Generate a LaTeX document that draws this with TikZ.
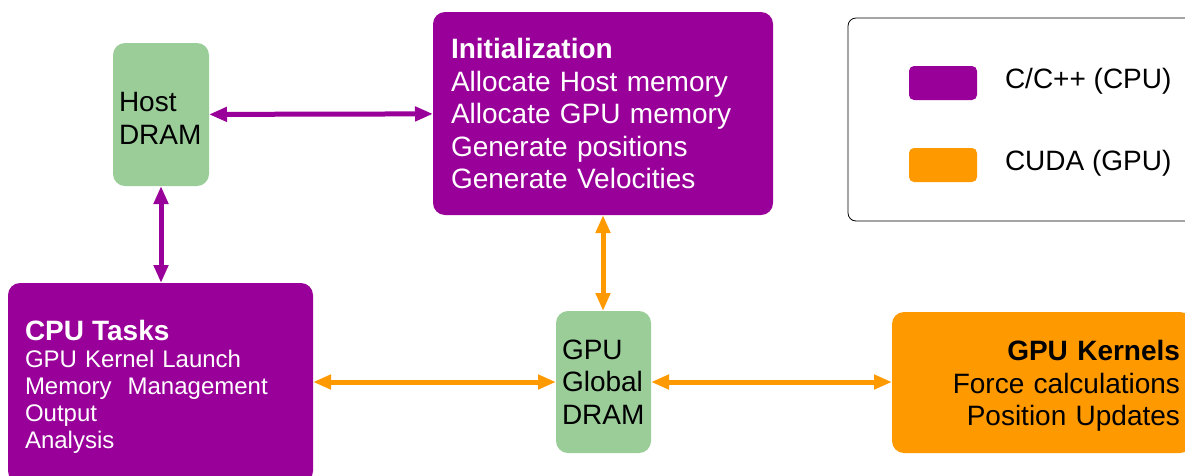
\documentclass[tikz,border=0pt]{standalone}
\usepackage{fontspec}
\setmainfont{Liberation Sans}
\usetikzlibrary{arrows.meta,positioning}
\definecolor{cpupurple}{HTML}{990099}
\definecolor{gpuorange}{HTML}{FF9900}
\definecolor{dramgreen}{HTML}{9BCD99}
\newcommand{\topstrut}{\rule{0pt}{27pt}}

\begin{document}
\begin{tikzpicture}[x=1pt,y=-1pt,
  every node/.style={font=\fontsize{28}{32.5}\selectfont,inner sep=0pt,outer sep=0pt},
  blockbox/.style={rounded corners=12pt,anchor=north west,inner ysep=0pt},
  drambox/.style={blockbox,fill=dramgreen,inner xsep=6pt,align=left},
  cpubox/.style={blockbox,fill=cpupurple,text=white,align=left},
  gpubox/.style={blockbox,fill=gpuorange,align=right},
  keybox/.style={rounded corners=5pt,minimum width=68pt,minimum height=34pt},
  cpulink/.style={{Triangle[length=18pt,width=14pt]}-{Triangle[length=18pt,width=14pt]},line width=5pt,cpupurple},
  gpulink/.style={{Triangle[length=18pt,width=14pt]}-{Triangle[length=18pt,width=14pt]},line width=5pt,gpuorange}]
  \useasboundingbox (0,0) rectangle (1185,475);
  % memory blocks
  \node[drambox,text width=84pt,minimum height=143pt] (host) at (113,43) {\topstrut Host\\DRAM};
  \node[drambox,text width=83pt,minimum height=142pt] (gmem) at (556,311) {GPU\\Global\\DRAM};
  % code blocks
  \node[cpubox,inner xsep=18pt,text width=304pt,minimum height=203pt] (init) at (433,12)
    {\textbf{Initialization}\\Allocate Host memory\\Allocate GPU memory\\Generate positions\\Generate Velocities};
  \node[cpubox,inner xsep=17pt,text width=271pt,minimum height=200pt,font=\fontsize{24}{27}\selectfont] (tasks) at (8,283)
    {{\fontsize{28}{30}\selectfont\bfseries\topstrut CPU Tasks}\\GPU Kernel Launch\\Memory~~Management\\Output\\Analysis};
  \node[gpubox,inner xsep=12pt,text width=276pt,minimum height=141pt] (kern) at (892,312)
    {\topstrut\textbf{GPU Kernels}\\Force calculations\\Position Updates};
  % legend
  \node[draw,rounded corners=8pt,line width=0.8pt,anchor=north west,minimum width=360pt,minimum height=203pt] (legend) at (848,18) {};
  \node[keybox,fill=cpupurple] (cpukey) at (943,83) {};
  \node[keybox,fill=gpuorange] (gpukey) at (943,165) {};
  \node[right=28pt of cpukey,yshift=2pt] (cpulabel) {C/C++ (CPU)};
  \node[right=28pt of gpukey,yshift=2pt] (gpulabel) {CUDA (GPU)};
  % links
  \draw[cpulink] (host) -- (init);
  \draw[cpulink] (host.south) -- (host.south |- tasks.north);
  \draw[gpulink] (init.south) -- (init.south |- gmem.north);
  \draw[gpulink] (gmem.west -| tasks.east) -- (gmem.west);
  \draw[gpulink] (gmem.east) -- (gmem.east -| kern.west);
\end{tikzpicture}
\end{document}
